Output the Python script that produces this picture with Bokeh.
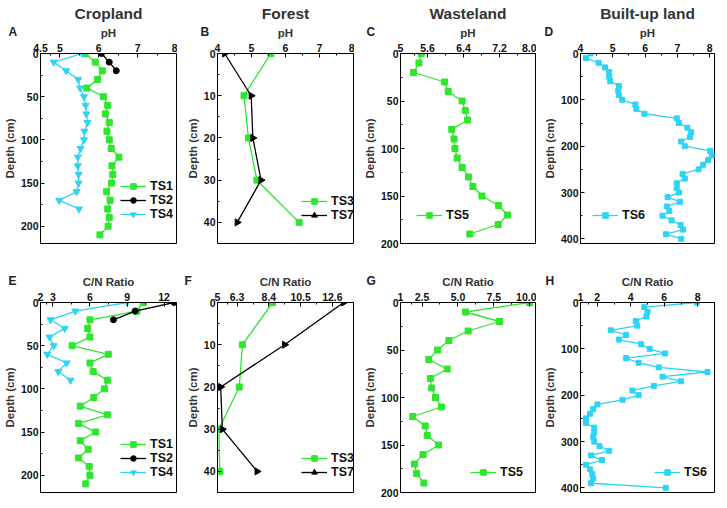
import math
from bokeh.plotting import figure
from bokeh.layouts import row, column
from bokeh.models import Range1d, FixedTicker, Title
from bokeh.embed import file_html
from bokeh.resources import INLINE

FONT = "Liberation Sans"
GREEN = "#2ee62e"
CYAN = "#2fd3f3"
BLACK = "#000000"

# ---------------- data ----------------
# Panel A: Cropland pH
a_ts1_depth = [0, 10, 20, 30, 40, 50, 60, 70, 80, 90, 100, 110, 120, 130, 140, 150, 160, 170, 180, 190, 200, 210]
a_ts1_ph = [5.65, 5.91, 6.09, 5.97, 5.69, 6.12, 6.23, 6.17, 6.27, 6.21, 6.27, 6.32, 6.52, 6.34, 6.36, 6.33, 6.20, 6.29, 6.23, 6.27, 6.24, 6.03]
a_ts2_depth = [0, 10, 20]
a_ts2_ph = [6.07, 6.27, 6.45]
a_ts4_depth = [0, 10, 20, 30, 40, 50, 60, 70, 80, 90, 100, 110, 120, 130, 140, 150, 160, 170, 180]
a_ts4_ph = [5.58, 4.84, 5.16, 5.47, 5.52, 5.62, 5.66, 5.68, 5.71, 5.63, 5.62, 5.53, 5.46, 5.46, 5.48, 5.48, 5.43, 4.98, 5.49]

# Panel B: Forest pH
b_depth = [0, 10, 20, 30, 40]
b_ts3_ph = [5.57, 4.78, 4.91, 5.16, 6.40]
b_ts7_ph = [4.21, 4.99, 5.04, 5.28, 4.58]

# Panel C: Wasteland pH
c_ts5_depth = [0, 10, 20, 30, 40, 50, 60, 70, 80, 90, 100, 110, 120, 130, 140, 150, 160, 170, 180, 190]
c_ts5_ph = [5.46, 5.41, 5.29, 5.98, 6.06, 6.37, 6.44, 6.49, 6.14, 6.19, 6.21, 6.26, 6.37, 6.51, 6.61, 6.81, 7.18, 7.38, 7.17, 6.54]

# Panel D: Built-up land pH
d_ts6_depth = [0, 10, 20, 30, 40, 50, 60, 70, 80, 90, 100, 110, 120, 130, 140, 150, 160, 170, 180, 190, 200,
               210, 220, 230, 240, 250, 260, 270, 280, 290, 300, 310, 320, 330, 340, 350, 360, 370, 380, 390, 400]
d_ts6_ph = [4.31, 4.17, 4.56, 4.76, 4.89, 4.89, 4.92, 5.19, 5.17, 5.19, 5.29, 5.70, 5.73, 5.98, 6.98, 7.05, 7.31,
            7.43, 7.39, 7.12, 7.23, 8.02, 8.07, 7.95, 7.80, 7.66, 7.16, 7.23, 6.98, 6.98, 7.05, 6.70, 7.08, 6.68,
            6.75, 6.54, 6.82, 7.10, 7.18, 6.65, 7.12]

# Panel E: Cropland C/N
e_ts1_depth = [0, 10, 20, 30, 40, 50, 60, 70, 80, 90, 100, 110, 120, 130, 140, 150, 160, 170, 180, 190, 200, 210]
e_ts1_cn = [10.3, 9.8, 6.0, 5.81, 6.0, 4.56, 7.48, 6.0, 6.26, 7.43, 7.17, 6.31, 5.21, 7.43, 5.08, 6.46, 5.21, 5.86, 5.08, 5.94, 6.0, 5.66]
e_ts2_depth = [0, 10, 20]
e_ts2_cn = [12.8, 9.65, 7.9]
e_ts4_depth = [0, 10, 20, 30, 40, 50, 60, 70, 80, 90]
e_ts4_cn = [9.0, 4.82, 2.81, 3.96, 2.73, 3.07, 2.55, 4.11, 3.44, 4.43]

# Panel F: Forest C/N
f_depth = [0, 10, 20, 30, 40]
f_ts3_cn = [8.65, 6.65, 6.44, 5.09, 5.15]
f_ts7_cn = [13.35, 9.44, 5.21, 5.32, 7.62]

# Panel G: Wasteland C/N
g_ts5_depth = [0, 10, 20, 30, 40, 50, 60, 70, 80, 90, 100, 110, 120, 130, 140, 150, 160, 170, 180, 190]
g_ts5_cn = [9.98, 5.53, 7.89, 5.71, 4.37, 3.58, 2.97, 4.25, 3.08, 3.17, 3.44, 3.85, 1.85, 2.72, 2.86, 3.65, 2.57, 1.97, 2.12, 2.63]

# Panel H: Built-up land C/N
h_ts6_depth = [0, 10, 20, 30, 40, 50, 60, 70, 80, 90, 100, 110, 120, 130, 140, 150, 160, 170, 180, 190, 200,
               210, 220, 230, 240, 250, 260, 270, 280, 290, 300, 310, 320, 330, 340, 350, 360, 370, 380, 390, 400]
h_ts6_cn = [7.95, 4.81, 5.0, 4.94, 4.30, 4.39, 2.81, 3.72, 3.29, 4.62, 5.13, 6.05, 3.72, 4.47, 5.67, 8.58, 5.9,
            7.0, 5.38, 4.1, 4.47, 3.51, 2.01, 1.76, 1.57, 1.32, 1.32, 1.82, 1.82, 1.76, 1.82, 2.14, 2.71, 1.63,
            2.28, 1.32, 1.57, 1.7, 1.76, 1.63, 6.09]

# tick definitions
a_xticks = [4.5, 5, 6, 7, 8];        a_xlabels = ["4.5", "5", "6", "7", "8"]
b_xticks = [4, 5, 6, 7, 8];          b_xlabels = ["4", "5", "6", "7", "8"]
c_xticks = [5, 5.6, 6.4, 7.2, 8];    c_xlabels = ["5", "5.6", "6.4", "7.2", "8.0"]
d_xticks = [4, 5, 6, 7, 8];          d_xlabels = ["4", "5", "6", "7", "8"]
e_xticks = [2, 3, 6, 9, 12];         e_xlabels = ["2", "3", "6", "9", "12"]
f_xticks = [5, 6.3, 8.4, 10.5, 12.6]; f_xlabels = ["5", "6.3", "8.4", "10.5", "12.6"]
g_xticks = [1, 2.5, 5, 7.5, 10];     g_xlabels = ["1", "2.5", "5.0", "7.5", "10.0"]
h_xticks = [1, 2, 4, 6, 8];          h_xlabels = ["1", "2", "4", "6", "8"]

depth220_ticks = [0, 50, 100, 150, 200]
depth200_ticks = [0, 50, 100, 150, 200]
depth45_ticks = [0, 10, 20, 30, 40]
depth410_ticks = [0, 100, 200, 300, 400]

# ---------------- layout constants ----------------
COLS = [dict(left=35, fw=136, right=1), dict(left=40, fw=136, right=1),
        dict(left=46, fw=135, right=1), dict(left=44, fw=134, right=2)]
FH = 190


def style_axis(ax):
    ax.major_label_text_font = FONT
    ax.major_label_text_font_style = "bold"
    ax.major_label_text_font_size = "10.5px"
    ax.major_label_text_color = "#111111"
    ax.axis_label_text_font = FONT
    ax.axis_label_text_font_style = "bold"
    ax.axis_label_text_font_size = "11.5px"
    ax.axis_label_text_color = "#333333"
    ax.major_tick_in = 4
    ax.major_tick_out = 0
    ax.minor_tick_in = 2
    ax.minor_tick_out = 0
    ax.major_label_standoff = 2
    ax.axis_label_standoff = 2
    ax.axis_line_color = "black"
    ax.major_tick_line_color = "black"
    ax.minor_tick_line_color = "black"


def mid(vals):
    return [(vals[i] + vals[i + 1]) / 2 for i in range(len(vals) - 1)]


def letter_title(letter, dx):
    kw = dict(text=letter, align="left", offset=dx - 4, vertical_align="bottom",
              text_font=FONT, text_font_style="bold", text_font_size="12px", text_color="#222222")
    try:
        return Title(standoff=-30, **kw)
    except Exception:
        return Title(standoff=0, **kw)


def panel(col, top_row, title, letter, letter_dx, xlabel, xr, xticks, xlabels, ymax, yticks, yminor,
          series, legend_xy):
    c = COLS[col]
    p = figure(frame_width=c["fw"], frame_height=FH,
               x_range=Range1d(*xr), y_range=Range1d(ymax, 0),
               x_axis_location="above", toolbar_location=None, output_backend="svg",
               min_border_left=c["left"], min_border_right=c["right"],
               min_border_top=0 if top_row else 52, min_border_bottom=7 if top_row else 6)
    p.background_fill_color = "white"
    p.border_fill_color = "white"
    p.outline_line_color = "black"
    p.outline_line_width = 1
    p.xgrid.visible = False
    p.ygrid.visible = False
    xa = p.xaxis[0]
    ya = p.yaxis[0]
    xa.axis_label = xlabel
    ya.axis_label = "Depth (cm)"
    xa.ticker = FixedTicker(ticks=xticks, minor_ticks=mid(xticks))
    xa.major_label_overrides = {t: l for t, l in zip(xticks, xlabels)}
    ya.ticker = FixedTicker(ticks=yticks, minor_ticks=yminor)
    style_axis(xa)
    style_axis(ya)

    for name, xs, ys, color, marker, size, angle in series:
        p.line(xs, ys, line_color=color, line_width=1.3, legend_label=name)
        p.scatter(xs, ys, marker=marker, size=size, fill_color=color, line_color=color,
                  angle=angle, legend_label=name)

    lg = p.legend[0]
    lg.location = legend_xy
    lg.background_fill_alpha = 0
    lg.border_line_alpha = 0
    lg.padding = 0
    lg.margin = 0
    lg.spacing = 0
    lg.glyph_width = 26
    lg.glyph_height = 14
    lg.label_height = 14
    lg.label_standoff = 4
    lg.label_text_font = FONT
    lg.label_text_font_style = "bold"
    lg.label_text_font_size = "12.5px"
    lg.label_text_color = "#111111"

    # panel letter (zero-height title sitting on the axis-label row)
    p.add_layout(letter_title(letter, letter_dx), "above")
    if title:
        p.add_layout(Title(text=title, align="center", standoff=4, text_font=FONT,
                           text_font_size="15.5px", text_font_style="bold", text_color="#333333"),
                     "above")
    return p


RIGHT = -math.pi / 2

pA = panel(0, True, "Cropland", "A", -28, "pH", (4.5, 8), a_xticks, a_xlabels, 220, depth220_ticks,
           [25, 75, 125, 175],
           [("TS1", a_ts1_ph, a_ts1_depth, GREEN, "square", 6, 0),
            ("TS2", a_ts2_ph, a_ts2_depth, BLACK, "circle", 6, 0),
            ("TS4", a_ts4_ph, a_ts4_depth, CYAN, "inverted_triangle", 7, 0)], (80, 22))
pB = panel(1, True, "Forest", "B", -13, "pH", (4, 8), b_xticks, b_xlabels, 45, depth45_ticks,
           [5, 15, 25, 35],
           [("TS3", b_ts3_ph, b_depth, GREEN, "square", 6, 0),
            ("TS7", b_ts7_ph, b_depth, BLACK, "triangle", 7, RIGHT)], (84, 21))
pC = panel(2, True, "Wasteland", "C", -30, "pH", (5, 8), c_xticks, c_xlabels, 200, depth200_ticks,
           [25, 75, 125, 175],
           [("TS5", c_ts5_ph, c_ts5_depth, GREEN, "square", 6, 0)], (16, 21))
pD = panel(3, True, "Built-up land", "D", -32, "pH", (4, 8.15), d_xticks, d_xlabels, 410, depth410_ticks,
           [50, 150, 250, 350],
           [("TS6", d_ts6_ph, d_ts6_depth, CYAN, "square", 5, 0)], (12, 21))

pE = panel(0, False, None, "E", -28, "C/N Ratio", (2, 13), e_xticks, e_xlabels, 220, depth220_ticks,
           [25, 75, 125, 175],
           [("TS1", e_ts1_cn, e_ts1_depth, GREEN, "square", 6, 0),
            ("TS2", e_ts2_cn, e_ts2_depth, BLACK, "circle", 6, 0),
            ("TS4", e_ts4_cn, e_ts4_depth, CYAN, "inverted_triangle", 7, 0)], (80, 13))
pF = panel(1, False, None, "F", -29, "C/N Ratio", (5, 14), f_xticks, f_xlabels, 45, depth45_ticks,
           [5, 15, 25, 35],
           [("TS3", f_ts3_cn, f_depth, GREEN, "square", 6, 0),
            ("TS7", f_ts7_cn, f_depth, BLACK, "triangle", 7, RIGHT)], (84, 13))
pG = panel(2, False, None, "G", -30, "C/N Ratio", (1, 10.4), g_xticks, g_xlabels, 200, depth200_ticks,
           [25, 75, 125, 175],
           [("TS5", g_ts5_cn, g_ts5_depth, GREEN, "square", 6, 0)], (70, 13))
pH_ = panel(3, False, None, "H", -31, "C/N Ratio", (1, 9), h_xticks, h_xlabels, 410, depth410_ticks,
            [50, 150, 250, 350],
            [("TS6", h_ts6_cn, h_ts6_depth, CYAN, "square", 5, 0)], (74, 13))

layout = column(row(pA, pB, pC, pD), row(pE, pF, pG, pH_))

with open("out.html", "w") as f:
    f.write(file_html(layout, INLINE))
